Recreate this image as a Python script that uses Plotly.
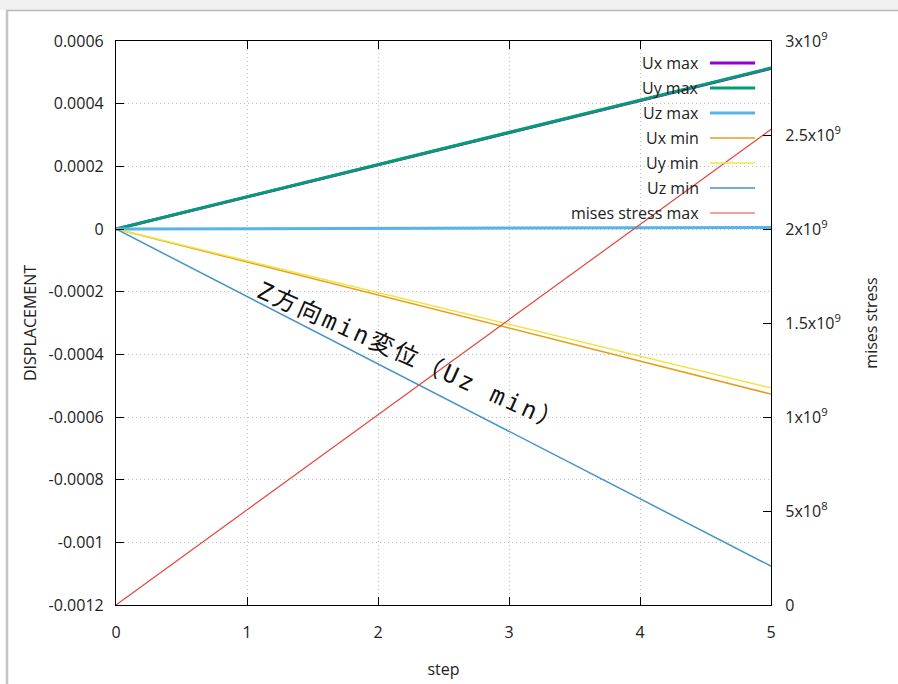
import plotly.graph_objects as go

# data
steps = [0, 1, 2, 3, 4, 5]
ux_max = [0, 0.000102, 0.000205, 0.000307, 0.00041, 0.000512]
uy_max = [0, 0.000103, 0.000206, 0.000308, 0.000411, 0.000514]
uz_max = [0, 0.000001, 0.000002, 0.000003, 0.000004, 0.000005]
ux_min = [0, -0.000105, -0.000211, -0.000316, -0.000422, -0.000527]
uy_min = [0, -0.000101, -0.000203, -0.000304, -0.000406, -0.000507]
uz_min = [0, -0.000215, -0.00043, -0.000646, -0.000861, -0.001076]
mises_max = [0, 5.06e8, 1.012e9, 1.518e9, 2.024e9, 2.53e9]

y_ticks = [0.0006, 0.0004, 0.0002, 0, -0.0002, -0.0004, -0.0006, -0.0008, -0.001, -0.0012]
y_ticktext = ["0.0006", "0.0004", "0.0002", "0", "-0.0002", "-0.0004", "-0.0006",
              "-0.0008", "-0.001", "-0.0012"]
y2_ticks = [0, 5e8, 1e9, 1.5e9, 2e9, 2.5e9, 3e9]
y2_ticktext = ["0", "5x10<sup>8</sup>", "1x10<sup>9</sup>", "1.5x10<sup>9</sup>",
               "2x10<sup>9</sup>", "2.5x10<sup>9</sup>", "3x10<sup>9</sup>"]

W, H = 898, 684
L, R, T, B = 116, 771, 41, 605
FONT = "Open Sans, Noto Sans, sans-serif"
TXT = "#222"


def px2x(px):
    return (px - L) / (R - L)


def py2y(py):
    return (B - py) / (B - T)


series = [
    ("Ux max", ux_max, "#9400d3", 3, "y"),
    ("Uy max", uy_max, "#009e73", 3, "y"),
    ("Uz max", uz_max, "#56b4e9", 3, "y"),
    ("Ux min", ux_min, "#e2a01a", 1.5, "y"),
    ("Uy min", uy_min, "#f0e442", 1.5, "y"),
    ("Uz min", uz_min, "#4593c8", 1.5, "y"),
    ("mises stress max", mises_max, "#e0463c", 1.2, "y2"),
]

fig = go.Figure()
for name, vals, color, width, yax in series:
    fig.add_trace(go.Scatter(x=steps, y=vals, name=name, mode="lines", yaxis=yax,
                             line=dict(color=color, width=width), showlegend=False))

# gnuplot style key: text right aligned, sample line on the right
shapes = []
annotations = []
for i, (name, vals, color, width, yax) in enumerate(series):
    py = 63 + 25 * i
    annotations.append(dict(xref="paper", yref="paper", x=px2x(701), y=py2y(py),
                            xanchor="right", yanchor="middle", text=name, showarrow=False,
                            font=dict(family=FONT, size=16, color=TXT)))
    shapes.append(dict(type="line", xref="paper", yref="paper",
                       x0=px2x(710), x1=px2x(755), y0=py2y(py), y1=py2y(py),
                       line=dict(color=color, width=width)))

label = '<span style="letter-spacing:2.8px">Z方向min変位（Uz min）</span>'
annotations.append(dict(xref="x", yref="y", x=2.25, y=-0.00041, text=label,
                        textangle=24, showarrow=False, xanchor="center", yanchor="middle",
                        font=dict(family="DejaVu Sans Mono, Noto Sans CJK JP, monospace",
                                  size=24, color="#111")))

# window chrome around the screenshot
shapes.append(dict(type="rect", xref="paper", yref="paper", x0=px2x(0), x1=px2x(W),
                   y0=py2y(0), y1=py2y(10), fillcolor="#f0f0f0", line=dict(width=0), layer="below"))
shapes.append(dict(type="line", xref="paper", yref="paper", x0=px2x(6), x1=px2x(W),
                   y0=py2y(10.5), y1=py2y(10.5), line=dict(color="#b8b8b8", width=1.5)))
shapes.append(dict(type="line", xref="paper", yref="paper", x0=px2x(7), x1=px2x(7),
                   y0=py2y(10.5), y1=py2y(H), line=dict(color="#c4c4c4", width=2.5)))

axis_common = dict(showline=True, linecolor="black", linewidth=1.2, ticks="inside", ticklen=8,
                   tickcolor="black", tickfont=dict(family=FONT, size=16, color=TXT),
                   zeroline=False, automargin=False)
grid = dict(showgrid=True, gridcolor="#bcbcbc", griddash="1px,3px", gridwidth=1)

fig.update_layout(
    width=W, height=H,
    margin=dict(l=L, r=W - R, t=T, b=H - B),
    paper_bgcolor="white", plot_bgcolor="white",
    shapes=shapes, annotations=annotations,
    xaxis=dict(range=[0, 5], tickvals=steps, mirror="ticks", ticklabelstandoff=13,
               title=dict(text="step", font=dict(family=FONT, size=16, color=TXT), standoff=21),
               **grid, **axis_common),
    yaxis=dict(range=[-0.0012, 0.0006], tickvals=y_ticks, ticktext=y_ticktext,
               ticklabelstandoff=8,
               title=dict(text="DISPLACEMENT", font=dict(family=FONT, size=16, color=TXT),
                          standoff=8),
               **grid, **axis_common),
    yaxis2=dict(range=[0, 3e9], tickvals=y2_ticks, ticktext=y2_ticktext, overlaying="y",
                side="right", showgrid=False, ticklabelstandoff=10,
                title=dict(text="mises stress", font=dict(family=FONT, size=16, color=TXT),
                           standoff=25),
                **axis_common),
)

# drop the default body margin so the figure sits at the window corner
fig.write_html("out.html", config={"displayModeBar": False},
               post_script="document.body.style.margin='0px';")
